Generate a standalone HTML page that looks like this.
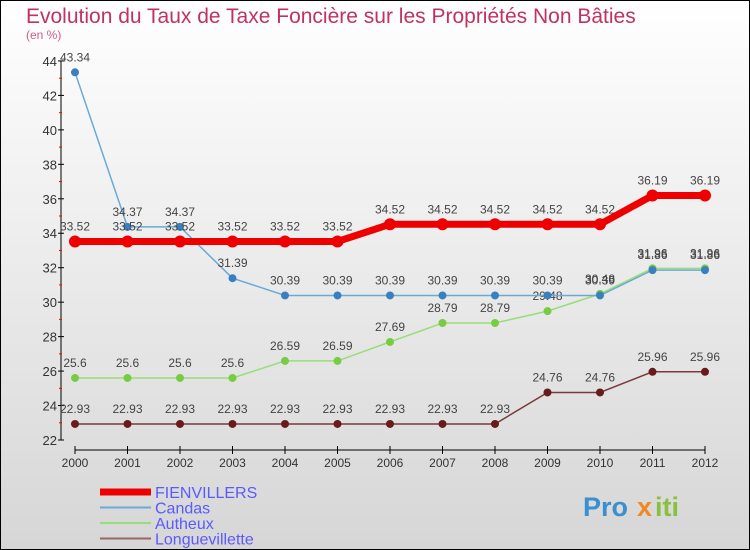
<!DOCTYPE html>
<html><head><meta charset="utf-8"><style>
body{margin:0}
svg{display:block;font-family:"Liberation Sans",sans-serif}
</style></head><body>
<svg width="750" height="550">
<defs><linearGradient id="bg" x1="0" y1="0" x2="0" y2="1"><stop offset="0" stop-color="#ffffff"/><stop offset="1" stop-color="#d6d6d6"/></linearGradient></defs>
<rect x="0.5" y="0.5" width="749" height="549" fill="url(#bg)" stroke="#000"/>
<text x="26" y="23" font-size="21" fill="#c0335f">Evolution du Taux de Taxe Foncière sur les Propriétés Non Bâties</text>
<text x="26" y="39" font-size="12" fill="#d05a80">(en %)</text>
<g id="axes"></g>
<g id="series"></g>
<g id="legend"></g>
<g font-size="27" font-weight="bold">
<text x="583" y="516" fill="#3a8fd0">Pro</text><text x="637" y="516" fill="#f08a20">x</text><text x="655" y="516" fill="#8ac040">iti</text>
</g>
</svg>
<script>
const years=[2000,2001,2002,2003,2004,2005,2006,2007,2008,2009,2010,2011,2012];
const yTicks=[22,24,26,28,30,32,34,36,38,40,42,44];
const fienvillers=[33.52,33.52,33.52,33.52,33.52,33.52,34.52,34.52,34.52,34.52,34.52,36.19,36.19];
const candas=[43.34,34.37,34.37,31.39,30.39,30.39,30.39,30.39,30.39,30.39,30.39,31.86,31.86];
const autheux=[25.6,25.6,25.6,25.6,26.59,26.59,27.69,28.79,28.79,29.48,30.48,31.96,31.96];
const longue=[22.93,22.93,22.93,22.93,22.93,22.93,22.93,22.93,22.93,24.76,24.76,25.96,25.96];
const NS="http://www.w3.org/2000/svg";
const X=i=>75+i*52.5, Y=v=>440-(v-22)*17.23;
function mk(t,a,p){const e=document.createElementNS(NS,t);for(const k in a)e.setAttribute(k,a[k]);p.appendChild(e);return e;}
const ax=document.getElementById('axes');
let e=mk('line',{x1:61,y1:Y(44),x2:61,y2:440,stroke:'#000'},ax);

e=mk('line',{x1:75,y1:450,x2:705,y2:450,stroke:'#000'},ax);

yTicks.forEach(v=>{mk('line',{x1:58,y1:Y(v),x2:64,y2:Y(v),stroke:'#000'},ax);
 if(v<44)mk('line',{x1:59,y1:Y(v+1),x2:62,y2:Y(v+1),stroke:'#f00'},ax);
 const t=mk('text',{x:57,y:Y(v)+5,'font-size':13,'text-anchor':'end',fill:'#333'},ax);t.textContent=v;
 });
years.forEach((y,i)=>{mk('line',{x1:X(i),y1:446,x2:X(i),y2:454,stroke:'#000'},ax);
 const t=mk('text',{x:X(i),y:467,'font-size':12,'text-anchor':'middle',fill:'#333'},ax);t.textContent=y;
 });
const sg=document.getElementById('series');
const defs=[[longue,'#7a3a3a','#6a1a1a',1.5,4,'longuevillette'],[autheux,'#99dd77','#77cc44',1.5,4,'autheux'],[candas,'#6aaad8','#3a80c0',1.5,4,'candas'],[fienvillers,'#ee0000','#ee0000',7,6,'fienvillers']];
defs.forEach(([d,lc,pc,w,r,n])=>{
 const g=mk('g',{},sg);
 mk('polyline',{points:d.map((v,i)=>X(i)+','+Y(v)).join(' '),fill:'none',stroke:lc,'stroke-width':w},g);
 d.forEach((v,i)=>{const c=mk('circle',{cx:X(i),cy:Y(v),r:r,fill:pc},g);
  
  const t=mk('text',{x:X(i),y:Y(v)-11,'font-size':12,'text-anchor':'middle',fill:'#444'},g);t.textContent=v;});
});
const lg=document.getElementById('legend');
[['FIENVILLERS','#ee0000',7],['Candas','#6aaad8',2],['Autheux','#99dd77',2],['Longuevillette','#996666',2]].forEach(([n,c,w],k)=>{
 const y=492+k*15.5;
 mk('line',{x1:100,y1:y,x2:151,y2:y,stroke:c,'stroke-width':w},lg);
 const t=mk('text',{x:155,y:y+6,'font-size':16,fill:'#5a5aff'},lg);t.textContent=n;
 });
</script>
</body></html>
